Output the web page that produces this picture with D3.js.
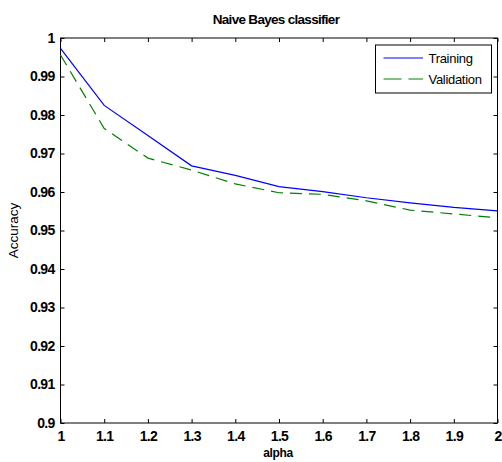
<!DOCTYPE html>
<html lang="en">
<head>
<meta charset="UTF-8">
<title>Naive Bayes classifier</title>
<style>
  body { margin: 0; background: #fff; }
  svg text { font-family: "Liberation Sans", Arial, sans-serif; }
  .tick text { font-weight: bold; font-size: 14px; letter-spacing: -0.7px; fill: #000; }
</style>
</head>
<body>
<svg id="chart" width="502" height="462"></svg>
<script src="https://d3js.org/d3.v7.min.js"></script>
<script>
// data
const alpha = [1, 1.1, 1.2, 1.3, 1.4, 1.5, 1.6, 1.7, 1.8, 1.9, 2];
const training = [0.9973, 0.9825, 0.9747, 0.9668, 0.9643, 0.9614, 0.9601, 0.9585, 0.9572, 0.9560, 0.9551];
const validation = [0.9956, 0.9765, 0.9688, 0.9657, 0.9621, 0.9598, 0.9594, 0.9577, 0.9553, 0.9543, 0.9533];
const xTicks = [1, 1.1, 1.2, 1.3, 1.4, 1.5, 1.6, 1.7, 1.8, 1.9, 2];
const yTicks = [0.9, 0.91, 0.92, 0.93, 0.94, 0.95, 0.96, 0.97, 0.98, 0.99, 1];

const margin = { top: 38, right: 4.5, bottom: 39, left: 60.5 };
const width = 502, height = 462;

const svg = d3.select("#chart");

const x = d3.scaleLinear().domain([1, 2]).range([margin.left, width - margin.right]);
const y = d3.scaleLinear().domain([0.9, 1]).range([height - margin.bottom, margin.top]);

const fmt = d => d3.format("")(+d.toFixed(2));

// axes with inward ticks
function styleAxis(g) {
  g.select(".domain").remove();
  g.selectAll(".tick line").attr("stroke", "#000");
}
svg.append("g")
  .attr("transform", `translate(0,${y(0.9)})`)
  .call(d3.axisBottom(x).tickValues(xTicks).tickFormat(fmt).tickSizeInner(-4).tickPadding(8))
  .call(styleAxis);
svg.append("g")
  .attr("transform", `translate(0,${y(1)})`)
  .call(d3.axisTop(x).tickValues(xTicks).tickFormat("").tickSizeInner(-4))
  .call(styleAxis);
svg.append("g")
  .attr("transform", `translate(${x(1)},0)`)
  .call(d3.axisLeft(y).tickValues(yTicks).tickFormat(fmt).tickSizeInner(-4).tickPadding(6))
  .call(styleAxis);
svg.append("g")
  .attr("transform", `translate(${x(2)},0)`)
  .call(d3.axisRight(y).tickValues(yTicks).tickFormat("").tickSizeInner(-4))
  .call(styleAxis);

// frame
svg.append("rect")
  .attr("x", x(1)).attr("y", y(1))
  .attr("width", x(2) - x(1)).attr("height", y(0.9) - y(1))
  .attr("fill", "none").attr("stroke", "#000").attr("stroke-width", 1);

const line = d3.line().x((d, i) => x(alpha[i])).y(d => y(d));

svg.append("path").datum(training)
  .attr("d", line).attr("fill", "none")
  .attr("stroke", "#0000ff").attr("stroke-width", 1.2);
svg.append("path").datum(validation)
  .attr("d", line).attr("fill", "none")
  .attr("stroke", "#008000").attr("stroke-width", 1.2)
  .attr("stroke-dasharray", "12,7");

// title and labels
svg.append("text")
  .attr("x", 276).attr("y", 24)
  .attr("text-anchor", "middle")
  .style("font-weight", "bold").style("font-size", "13.5px").style("letter-spacing", "-0.7px")
  .text("Naive Bayes classifier");
svg.append("text")
  .attr("x", 278).attr("y", 457)
  .attr("text-anchor", "middle")
  .style("font-weight", "bold").style("font-size", "12px").style("letter-spacing", "-0.4px")
  .text("alpha");
svg.append("text")
  .attr("transform", `translate(18,${(y(0.9) + y(1)) / 2}) rotate(-90)`)
  .attr("text-anchor", "middle")
  .style("font-size", "13.5px")
  .text("Accuracy");

// legend
const legend = svg.append("g").attr("transform", "translate(375.5,45)");
legend.append("rect")
  .attr("width", 116).attr("height", 48)
  .attr("fill", "#fff").attr("stroke", "#000").attr("stroke-width", 1);
const entries = [
  { name: "Training", color: "#0000ff", dash: null },
  { name: "Validation", color: "#008000", dash: "18,7" }
];
entries.forEach((e, i) => {
  const yy = 13 + i * 21;
  legend.append("line")
    .attr("x1", 8).attr("x2", 47.5).attr("y1", yy).attr("y2", yy)
    .attr("stroke", e.color).attr("stroke-width", 1)
    .attr("stroke-dasharray", e.dash);
  legend.append("text")
    .attr("x", 53).attr("y", yy + 4.5)
    .style("font-size", "13px").style("letter-spacing", "-0.3px")
    .text(e.name);
});
</script>
</body>
</html>
